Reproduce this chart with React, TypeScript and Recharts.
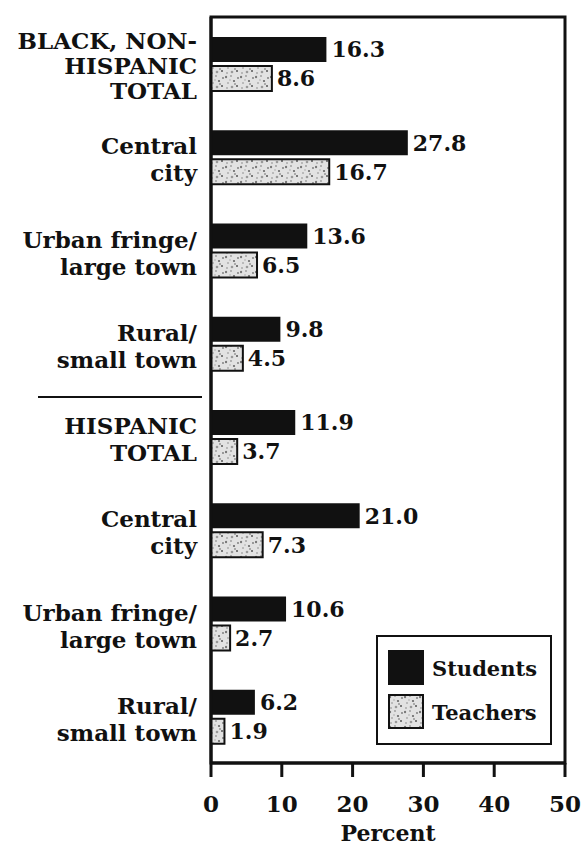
import { Bar, BarChart, LabelList, ReferenceArea, XAxis, YAxis } from 'recharts'

const categoryLabels = [
  'BLACK, NON-\nHISPANIC\nTOTAL',
  'Central\ncity',
  'Urban fringe/\nlarge town',
  'Rural/\nsmall town',
  'HISPANIC\nTOTAL',
  'Central\ncity',
  'Urban fringe/\nlarge town',
  'Rural/\nsmall town',
]
const studentValues = [16.3, 27.8, 13.6, 9.8, 11.9, 21.0, 10.6, 6.2]
const teacherValues = [8.6, 16.7, 6.5, 4.5, 3.7, 7.3, 2.7, 1.9]
const percentTicks = [0, 10, 20, 30, 40, 50]
const seriesNames = ['Students', 'Teachers']

const FONT = 'DejaVu Serif'
const INK = '#111'

const chartData = categoryLabels.map((label, i) => ({
  key: `g${i}`,
  label,
  students: studentValues[i],
  teachers: teacherValues[i],
}))

// hand-placed specks for the stippled teacher fill
const specks = [
  [1, 2, 1.2, '#777'],
  [6, 1, 0.9, '#999'],
  [9, 6, 1.1, '#666'],
  [3, 8, 0.8, '#888'],
  [12, 11, 1.0, '#555'],
  [7, 12, 1.3, '#999'],
  [13, 3, 0.9, '#777'],
  [2, 13, 1.0, '#aaa'],
  [10, 9, 0.7, '#444'],
  [5, 5, 0.8, '#aaa'],
] as const

function SpeckleDefs() {
  return (
    <defs>
      <pattern id="speckle" width="15" height="15" patternUnits="userSpaceOnUse">
        <rect width="15" height="15" fill="#e2e2e2" />
        {specks.map(([cx, cy, r, c], i) => (
          <circle key={i} cx={cx} cy={cy} r={r} fill={c} />
        ))}
      </pattern>
    </defs>
  )
}

function CategoryTick(props: any) {
  const { x, y, payload } = props
  const lines = categoryLabels[payload.index].split('\n')
  const spacing = lines.length > 2 ? 25 : 27
  const offset = lines.length > 2 ? 2 : 3
  return (
    <text fill={INK} fontFamily={FONT} fontSize={23} fontWeight="bold" textAnchor="end">
      {lines.map((line: string, i: number) => (
        <tspan
          key={i}
          x={x}
          y={y + offset + (i - (lines.length - 1) / 2) * spacing + 8}
        >
          {line}
        </tspan>
      ))}
    </text>
  )
}

function LegendBox() {
  return (
    <div
      style={{
        position: 'absolute',
        left: 376,
        top: 635,
        width: 172,
        height: 106,
        border: `2px solid ${INK}`,
        background: '#fff',
      }}
    >
      <svg width={172} height={106}>
        <SpeckleDefs />
        {seriesNames.map((name, i) => (
          <g key={name} transform={`translate(11, ${14 + i * 44})`}>
            <rect
              width={34}
              height={33}
              fill={i === 0 ? INK : 'url(#speckle)'}
              stroke={INK}
              strokeWidth={2}
            />
            <text x={43} y={25} fill={INK} fontFamily={FONT} fontSize={21} fontWeight="bold">
              {name}
            </text>
          </g>
        ))}
      </svg>
    </div>
  )
}

export default function App() {
  return (
    <div style={{ position: 'relative', width: 584, height: 847, background: '#fff' }}>
      <style>{'body { margin: 0; }'}</style>
      <BarChart
        data={chartData}
        height={847}
        layout="vertical"
        margin={{ bottom: 0, left: 0, right: 19, top: 17 }}
        width={584}
        barGap={4}
      >
        <SpeckleDefs />
        <XAxis
          axisLine={{ stroke: INK, strokeWidth: 3 }}
          domain={[0, 50]}
          height={84}
          label={{
            value: 'Percent',
            position: 'insideBottom',
            offset: 6,
            fill: INK,
            fontFamily: FONT,
            fontSize: 22,
            fontWeight: 'bold',
          }}
          tick={{ fill: INK, fontFamily: FONT, fontSize: 23, fontWeight: 'bold' }}
          tickLine={{ stroke: INK, strokeWidth: 3 }}
          tickMargin={19}
          tickSize={14}
          ticks={percentTicks}
          type="number"
        />
        <YAxis
          axisLine={{ stroke: INK, strokeWidth: 3 }}
          dataKey="key"
          tick={<CategoryTick />}
          tickLine={false}
          tickMargin={14}
          tickSize={0}
          type="category"
          width={211}
        />
        <ReferenceArea
          x1={0}
          x2={50}
          fill="none"
          stroke={INK}
          strokeWidth={3}
          fillOpacity={0}
        />
        <Bar dataKey="students" name="Students" barSize={25} fill={INK} isAnimationActive={false}>
          <LabelList
            dataKey="students"
            position="right"
            offset={5}
            fill={INK}
            fontFamily={FONT}
            fontSize={22}
            fontWeight="bold"
            formatter={(v: any) => Number(v).toFixed(1)}
          />
        </Bar>
        <Bar
          dataKey="teachers"
          name="Teachers"
          barSize={25}
          fill="url(#speckle)"
          stroke={INK}
          strokeWidth={2}
          isAnimationActive={false}
        >
          <LabelList
            dataKey="teachers"
            position="right"
            offset={5}
            fill={INK}
            stroke="none"
            fontFamily={FONT}
            fontSize={22}
            fontWeight="bold"
            formatter={(v: any) => Number(v).toFixed(1)}
          />
        </Bar>
      </BarChart>
      <div
        style={{
          position: 'absolute',
          left: 38,
          top: 396,
          width: 164,
          height: 0,
          borderTop: `2.5px solid ${INK}`,
        }}
      />
      <LegendBox />
    </div>
  )
}
